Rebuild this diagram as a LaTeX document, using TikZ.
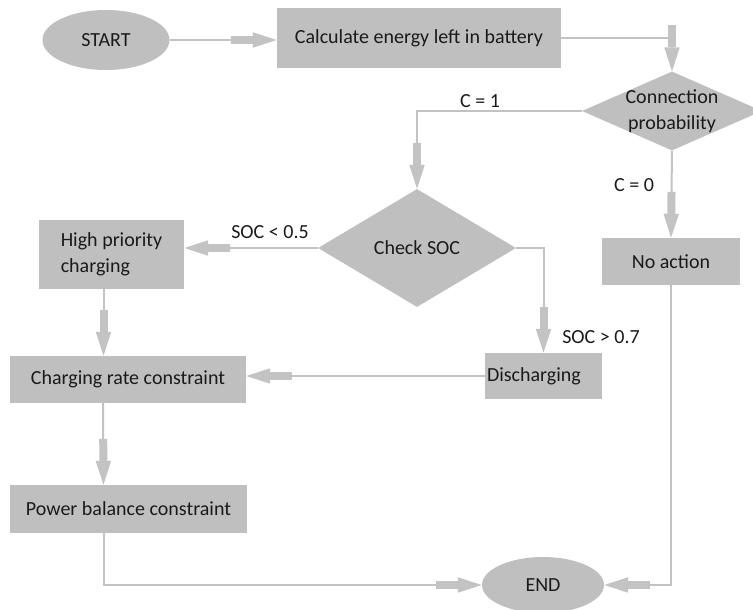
\documentclass[tikz,border=0pt]{standalone}
\usepackage{fontspec}
\setmainfont{Carlito}
\usetikzlibrary{shapes.geometric,arrows.meta}
\definecolor{boxgray}{HTML}{BFBFBF}
\definecolor{linegray}{HTML}{C3C3C3}
\definecolor{txtgray}{HTML}{1A1A1A}
\begin{document}
\begin{tikzpicture}[x=1pt,y=-1pt]
    \useasboundingbox (0,0) rectangle (753,610);
    \clip (0,0) rectangle (753,610);

    \tikzstyle{every node}=[font=\fontsize{20}{26}\selectfont, text=txtgray]
    \tikzstyle{term}=[ellipse,fill=boxgray,inner sep=0pt]
    \tikzstyle{proc}=[rectangle,fill=boxgray,inner sep=2pt]
    \tikzstyle{dec}=[diamond,fill=boxgray,inner sep=-6pt,aspect=2.3,align=center]
    \tikzstyle{cond}=[inner sep=1pt]

    \node[term, minimum width=127, minimum height=60]  (start) at (106,40) {START};
    \node[proc, minimum width=284, minimum height=60]  (calc) at (419,38) {Calculate energy left in battery};
    \node[dec, minimum width=180, minimum height=79]  (conn) at (672,111) {Connection\\probability};
    \node[dec, minimum width=198, minimum height=118]  (check) at (417,248) {Check SOC};
    \node[proc, minimum width=138, minimum height=47]  (noact) at (671,261.5) {No action};
    \node[proc, minimum width=145, minimum height=69, align=left]  (high) at (111.5,254.5) {High priority\\charging};
    \node[proc, minimum width=117, minimum height=46, text width=113, align=left]  (disch) at (543.5,376) {Discharging};
    \node[proc, minimum width=236, minimum height=47]  (rate) at (128,379.5) {Charging rate constraint};
    \node[proc, minimum width=237, minimum height=48]  (power) at (128.5,509) {Power balance constraint};
    \node[term, minimum width=122, minimum height=56]  (end) at (543,585) {END};

    \node[cond]  (c1) at (480,101) {C = 1};
    \node[cond]  (c0) at (634,185) {C = 0};
    \node[cond]  (slow) at (270,232) {SOC < 0.5};
    \node[cond]  (shigh) at (601,337) {SOC > 0.7};

    \tikzstyle{fwd} = [draw=linegray, line width=2pt,
        -{Rectangle[length=22pt,width=8pt]Triangle[length=24pt,width=15pt]}]

          \draw [fwd] (start.east) -- (start.east -| calc.west);
          \draw [fwd] (calc.east) -| (conn.north);
          \draw [fwd] (conn.west) -| (check.north);
          \draw [fwd] (conn.south) -- (noact.north);
          \draw [fwd] (check.west) -- (check.west -| high.east);
          \draw [fwd] (check.east) -| (disch.north);
          \draw [fwd] ([xshift=-8pt]high.south) -- ([xshift=-8pt]high.south |- rate.north);
          \draw [fwd] (disch.west) -- (disch.west -| rate.east);
          \draw [fwd] ([xshift=-25pt]rate.south) -- ([xshift=-25pt]power.north);
          \draw [fwd] ([xshift=-25pt]power.south) |- (end.west);
          \draw [fwd] (noact.south) |- (end.east);

  \end{tikzpicture}
\end{document}
